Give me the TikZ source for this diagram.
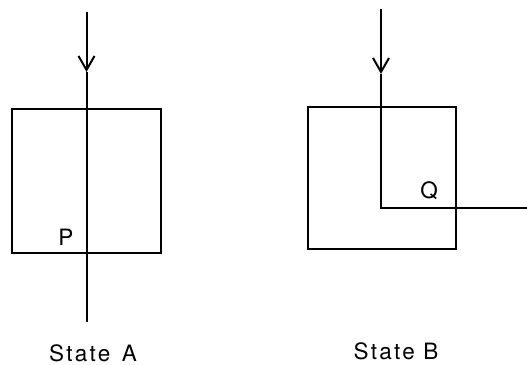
\documentclass[tikz,border=0pt]{standalone}
\usepackage{fontspec}
\setmainfont{TeX Gyre Heros}
\usetikzlibrary{arrows.meta}
\begin{document}
\begin{tikzpicture}[x=1pt,y=-1pt,
  ln/.style={line width=2pt},
  lbl/.style={inner sep=0pt,font=\fontsize{22.5}{26}\selectfont\addfontfeature{LetterSpace=6}},
  caption/.style={inner sep=0pt,font=\fontsize{22.5}{26}\selectfont\addfontfeature{LetterSpace=10}},
  barb/.style={-{Straight Barb[length=14pt,width=16pt,line width=2pt]}}]
\useasboundingbox (0,0) rectangle (527,364);
% State A
\draw[ln] (12,109) rectangle (160.5,253);
\coordinate (topA) at (86.5,12);
\coordinate (tipA) at (86.5,72);
\coordinate (botA) at (86.5,322);
\draw[ln,barb] (topA) -- (tipA);
\draw[ln] (tipA) -- (botA);
\node[lbl] (P) at (66,237) {P};
\node[caption] (SA) at (93,353) {State\hspace{3pt} A};
% State B
\draw[ln] (308,107) rectangle (456,249);
\coordinate (topB) at (381,9);
\coordinate (tipB) at (381,74);
\coordinate (cornB) at (381,208);
\coordinate (endB) at (527,208);
\draw[ln,barb] (topB) -- (tipB);
\draw[ln] (tipB) -- (cornB) -- (endB);
\node[lbl] (Q) at (429,191) {Q};
\node[caption] (SB) at (396,351) {State B};
\end{tikzpicture}
\end{document}
